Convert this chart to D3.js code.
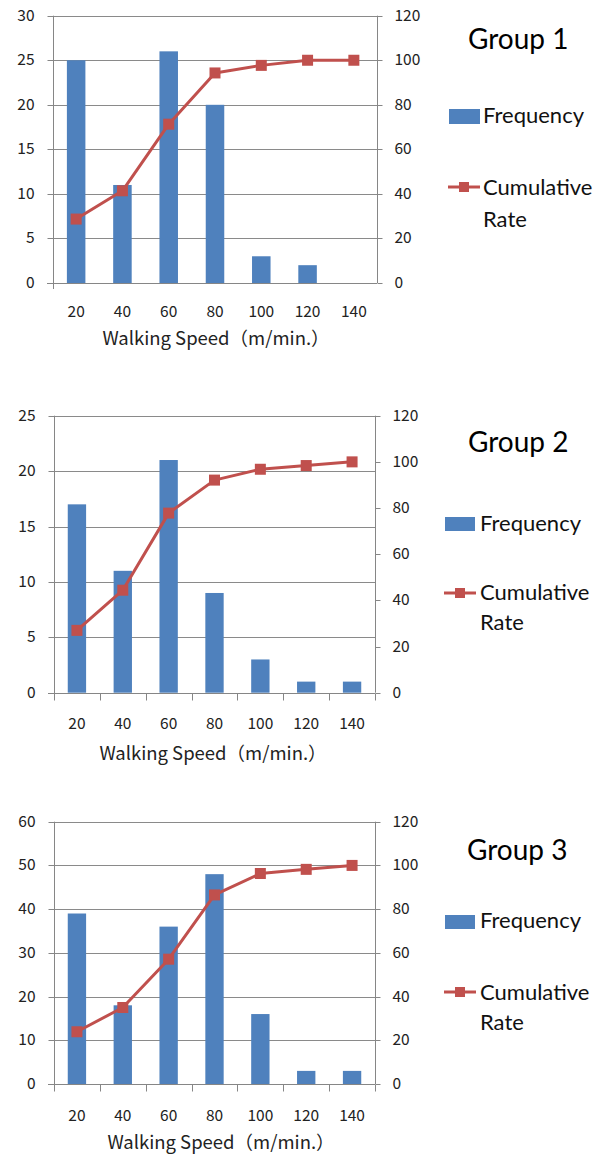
<!DOCTYPE html>
<html>
<head>
<meta charset="utf-8">
<script src="https://cdn.jsdelivr.net/npm/d3@7"></script>
<style>
  html, body { margin: 0; padding: 0; background: #fff; }
  svg { display: block; }
</style>
</head>
<body>
<script>
// ---------- data ----------
const categories = ["20", "40", "60", "80", "100", "120", "140"];
const freq1 = [25, 11, 26, 20, 3, 2, 0];
const cum1  = [28.7, 41.4, 71.3, 94.3, 97.7, 100, 100];
const freq2 = [17, 11, 21, 9, 3, 1, 1];
const cum2  = [27.0, 44.4, 77.8, 92.1, 96.8, 98.4, 100];
const freq3 = [39, 18, 36, 48, 16, 3, 3];
const cum3  = [23.9, 35.0, 57.1, 86.5, 96.3, 98.2, 100];
const leftTicks1 = [0, 5, 10, 15, 20, 25, 30];
const leftTicks2 = [0, 5, 10, 15, 20, 25];
const leftTicks3 = [0, 10, 20, 30, 40, 50, 60];
const rightTicks = [0, 20, 40, 60, 80, 100, 120];
const groupNames = ["Group 1", "Group 2", "Group 3"];
const seriesNames = ["Frequency", "Cumulative", "Rate"];
const xTitle = "Walking Speed（m/min.）";

// ---------- layout (positions / styles) ----------
const layout = [
  { left: 53, right: 377, top: 15.7, bottom: 283, catTicks: false, tickBase: 317, titleX: 216, titleBase: 345,
    lg: { gx: 468, gy: 49, boxX: 449, boxY: 109, boxW: 31, boxH: 15, fx: 483, fy: 123, lx1: 448, lx2: 480, ly: 187, cy: 195, ry: 227 } },
  { left: 54, right: 375, top: 415.7, bottom: 692.7, catTicks: true, tickBase: 729, titleX: 213, titleBase: 760,
    lg: { gx: 468, gy: 452, boxX: 445, boxY: 517, boxW: 30, boxH: 14, fx: 480, fy: 531, lx1: 444, lx2: 476, ly: 593, cy: 600, ry: 630 } },
  { left: 54, right: 375, top: 821.7, bottom: 1084, catTicks: true, tickBase: 1121, titleX: 221, titleBase: 1149,
    lg: { gx: 467, gy: 860, boxX: 445, boxY: 915, boxW: 30, boxH: 14, fx: 480, fy: 928, lx1: 444, lx2: 476, ly: 992, cy: 1000, ry: 1030 } }
];

const charts = [
  { freq: freq1, cum: cum1, leftTicks: leftTicks1 },
  { freq: freq2, cum: cum2, leftTicks: leftTicks2 },
  { freq: freq3, cum: cum3, leftTicks: leftTicks3 }
];

const BAR = "#4F81BD", LINE = "#C0504D", GRID = "#8a8a8a", AXIS = "#868686", TXT = "#222";
const axisFont = "'Noto Sans CJK JP', 'Liberation Sans', sans-serif";
const legendFont = "Lato, 'Open Sans', sans-serif";

const svg = d3.select("body").append("svg")
  .attr("width", 608).attr("height", 1155);
svg.append("rect").attr("width", 608).attr("height", 1155).attr("fill", "#fff");

charts.forEach((c, i) => {
  const L = layout[i];
  const g = svg.append("g");

  const x = d3.scaleBand().domain(categories).range([L.left, L.right])
    .paddingInner(0.6).paddingOuter(0.3);
  const yL = d3.scaleLinear().domain([0, d3.max(c.leftTicks)]).range([L.bottom, L.top]);
  const yR = d3.scaleLinear().domain([0, d3.max(rightTicks)]).range([L.bottom, L.top]);

  // gridlines
  g.append("g").selectAll("line").data(c.leftTicks.filter(t => t > 0)).join("line")
    .attr("x1", L.left).attr("x2", L.right)
    .attr("y1", d => Math.round(yL(d)) + 0.5).attr("y2", d => Math.round(yL(d)) + 0.5)
    .attr("stroke", GRID).attr("stroke-width", 1);

  // bars
  g.append("g").selectAll("rect").data(c.freq).join("rect")
    .attr("x", (d, j) => x(categories[j]))
    .attr("width", x.bandwidth())
    .attr("y", d => yL(d))
    .attr("height", d => yL(0) - yL(d))
    .attr("fill", BAR);

  // left axis
  const leftAxis = d3.axisLeft(yL).tickValues(c.leftTicks).tickSize(6).tickPadding(13);
  const la = g.append("g").attr("transform", `translate(${Math.round(L.left) + 0.5},0)`).call(leftAxis);
  la.select(".domain").remove();
  la.selectAll(".tick line").attr("stroke", AXIS);
  la.selectAll(".tick").attr("transform", d => `translate(0,${Math.round(yL(d)) + 0.5})`);
  la.selectAll("text").attr("fill", TXT).style("font-family", axisFont).style("font-size", "15.5px");
  g.append("line").attr("x1", Math.round(L.left) + 0.5).attr("x2", Math.round(L.left) + 0.5)
    .attr("y1", L.top).attr("y2", L.bottom + 6).attr("stroke", AXIS);

  // right axis
  const rightAxis = d3.axisRight(yR).tickValues(rightTicks).tickSize(5).tickPadding(12);
  const ra = g.append("g").attr("transform", `translate(${Math.round(L.right) + 0.5},0)`).call(rightAxis);
  ra.select(".domain").remove();
  ra.selectAll(".tick line").attr("stroke", AXIS);
  ra.selectAll(".tick").attr("transform", d => `translate(0,${Math.round(yR(d)) + 0.5})`);
  ra.selectAll("text").attr("fill", TXT).style("font-family", axisFont).style("font-size", "15.5px");
  g.append("line").attr("x1", Math.round(L.right) + 0.5).attr("x2", Math.round(L.right) + 0.5)
    .attr("y1", L.top).attr("y2", L.bottom).attr("stroke", AXIS);

  // bottom axis line
  const by = Math.round(L.bottom) + 0.5;
  g.append("line").attr("x1", L.left - 6).attr("x2", L.right).attr("y1", by).attr("y2", by).attr("stroke", AXIS);
  if (L.catTicks) {
    const step = x.step();
    const bounds = categories.map(cat => x(cat) - step * 0.3).concat([x(categories[categories.length - 1]) + x.bandwidth() + step * 0.3]);
    g.append("g").selectAll("line").data(bounds).join("line")
      .attr("x1", d => Math.round(d) + 0.5).attr("x2", d => Math.round(d) + 0.5)
      .attr("y1", by).attr("y2", by + 7).attr("stroke", AXIS);
  }

  // category labels
  g.append("g").selectAll("text").data(categories).join("text")
    .attr("x", d => x(d) + x.bandwidth() / 2)
    .attr("y", L.tickBase)
    .attr("text-anchor", "middle")
    .attr("fill", TXT)
    .style("font-family", axisFont).style("font-size", "15.5px")
    .text(d => d);

  // axis title
  g.append("text").attr("x", L.titleX).attr("y", L.titleBase)
    .attr("text-anchor", "middle").attr("fill", TXT)
    .style("font-family", axisFont).style("font-size", "18.5px")
    .text(xTitle);

  // cumulative line
  const line = d3.line().x((d, j) => x(categories[j]) + x.bandwidth() / 2).y(d => yR(d));
  g.append("path").datum(c.cum).attr("d", line)
    .attr("fill", "none").attr("stroke", LINE).attr("stroke-width", 3).attr("stroke-linejoin", "round");
  g.append("g").selectAll("rect").data(c.cum).join("rect")
    .attr("x", (d, j) => x(categories[j]) + x.bandwidth() / 2 - 5.5)
    .attr("y", d => yR(d) - 5.5)
    .attr("width", 11).attr("height", 11)
    .attr("fill", LINE);

  // legend / group title
  const lg = L.lg;
  g.append("text").attr("x", lg.gx).attr("y", lg.gy).attr("fill", "#000")
    .style("font-family", legendFont).style("font-size", "28px").text(groupNames[i]);
  g.append("rect").attr("x", lg.boxX).attr("y", lg.boxY).attr("width", lg.boxW).attr("height", lg.boxH).attr("fill", BAR);
  g.append("text").attr("x", lg.fx).attr("y", lg.fy).attr("fill", "#111")
    .style("font-family", legendFont).style("font-size", "22px").text(seriesNames[0]);
  g.append("line").attr("x1", lg.lx1).attr("x2", lg.lx2).attr("y1", lg.ly).attr("y2", lg.ly)
    .attr("stroke", LINE).attr("stroke-width", 3);
  g.append("rect").attr("x", (lg.lx1 + lg.lx2) / 2 - 5).attr("y", lg.ly - 5).attr("width", 10).attr("height", 10).attr("fill", LINE);
  g.append("text").attr("x", lg.fx).attr("y", lg.cy).attr("fill", "#111")
    .style("font-family", legendFont).style("font-size", "22px").text(seriesNames[1]);
  g.append("text").attr("x", lg.fx).attr("y", lg.ry).attr("fill", "#111")
    .style("font-family", legendFont).style("font-size", "22px").text(seriesNames[2]);
});
</script>
</body>
</html>
